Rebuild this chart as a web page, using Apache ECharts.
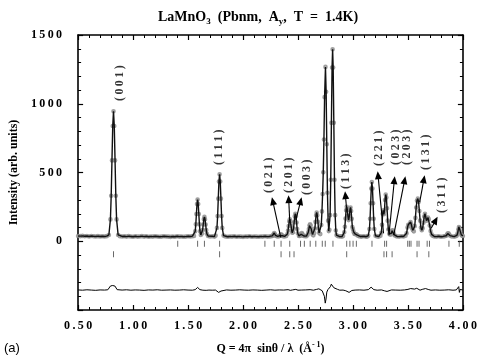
<!DOCTYPE html>
<html><head><meta charset="utf-8">
<script src="https://cdn.jsdelivr.net/npm/echarts@6/dist/echarts.min.js"></script>
<style>html,body{margin:0;padding:0;background:#fff}#c{width:480px;height:360px}</style>
</head><body><div id="c"></div>
<script>
// ---- data ----
var xTicks = [0.5, 1.0, 1.5, 2.0, 2.5, 3.0, 3.5, 4.0];
var yTicks = [0, 500, 1000, 1500];

// observed / fitted profile [Q, intensity]
var observed = [
[0.50,38],[0.52,37],[0.54,39],[0.56,36],[0.58,38],[0.60,35],[0.62,38],[0.64,36],[0.66,35],[0.68,37],[0.70,35],[0.72,36],[0.74,35],[0.76,37],
[0.780,46],[0.794,159],[0.801,331],[0.808,588],[0.815,838],[0.822,945],[0.829,838],[0.836,588],[0.843,331],[0.850,159],[0.864,46],
[0.88,37],[0.90,35],[0.92,36],[0.94,34],[0.96,37],[0.98,35],[1.00,33],[1.02,36],[1.04,34],[1.06,35],[1.08,37],[1.10,34],[1.12,36],[1.14,33],[1.16,35],[1.18,34],[1.20,36],[1.22,35],[1.24,33],[1.26,34],[1.28,36],[1.30,35],[1.32,34],[1.34,32],[1.36,35],[1.38,33],[1.40,36],[1.42,34],[1.44,35],[1.46,33],[1.48,34],[1.50,36],[1.52,35],[1.54,37],
[1.554,39],[1.565,72],[1.5705,123],[1.576,198],[1.5815,271],[1.587,303],[1.5925,271],[1.598,198],[1.6035,123],[1.609,72],[1.616,46],
[1.627,56],[1.6325,82],[1.638,122],[1.6435,160],[1.649,177],[1.6545,160],[1.660,122],[1.6655,82],[1.671,55],[1.682,38],
[1.70,35],[1.72,36],[1.74,34],
[1.751,41],[1.763,97],[1.769,183],[1.775,310],[1.781,434],[1.787,487],[1.793,434],[1.799,310],[1.805,183],[1.811,97],[1.823,41],
[1.84,35],[1.86,33],[1.88,35],[1.90,34],[1.92,36],[1.94,33],[1.96,35],[1.98,34],[2.00,32],[2.02,35],[2.04,34],[2.06,36],[2.08,33],[2.10,35],[2.12,34],[2.14,33],[2.16,35],[2.18,34],[2.20,36],[2.22,34],[2.24,35],[2.255,36],
[2.266,39],[2.272,42],[2.278,51],[2.284,60],[2.290,51],[2.296,42],[2.302,38],[2.315,35],
[2.328,37],[2.334,40],[2.340,45],[2.346,50],[2.352,45],[2.358,40],[2.364,37],[2.378,35],
[2.393,38],[2.404,53],[2.4095,78],[2.415,111],[2.4205,145],[2.426,160],[2.4315,146],[2.437,112],[2.4425,80],[2.448,62],[2.454,66],[2.4595,92],[2.465,138],[2.4705,181],[2.476,200],[2.4815,181],[2.487,136],[2.4925,89],[2.498,58],[2.509,39],
[2.517,38],[2.523,42],[2.529,51],[2.535,60],[2.541,51],[2.547,42],[2.553,38],[2.565,36],
[2.577,37],[2.588,48],[2.5935,65],[2.599,89],[2.6045,114],[2.610,124],[2.6155,114],[2.621,89],[2.6265,66],[2.632,50],[2.640,43],[2.648,60],[2.6535,92],[2.659,141],[2.6645,189],[2.670,209],[2.6755,189],[2.681,141],[2.6865,93],[2.692,61],
[2.703,52],[2.712,118],[2.718,217],[2.724,343],[2.730,501],[2.736,740],[2.742,1048],[2.750,1268],[2.756,1087],[2.762,706],[2.768,353],[2.774,150],[2.780,74],[2.786,84],[2.792,190],[2.798,447],[2.804,861],[2.810,1263],[2.815,1396],[2.820,1263],[2.826,861],[2.832,447],[2.838,190],[2.844,78],[2.850,45],[2.860,38],
[2.875,35],[2.89,36],[2.90,34],
[2.910,38],[2.921,65],[2.9265,106],[2.932,166],[2.9375,225],[2.943,251],[2.9485,231],[2.954,185],[2.9605,154],[2.967,183],[2.9725,226],[2.978,246],[2.9835,220],[2.989,163],[2.9945,104],[3.000,88],[3.006,68],[3.013,54],[3.020,53],[3.031,51],[3.040,44],[3.050,38],
[3.065,35],[3.08,34],[3.10,36],[3.12,33],[3.13,35],
[3.139,40],[3.150,89],[3.1555,164],[3.161,276],[3.1665,384],[3.172,431],[3.1775,384],[3.183,276],[3.1885,164],[3.194,89],[3.205,40],
[3.22,35],[3.235,34],
[3.250,40],[3.258,62],[3.264,120],[3.270,200],[3.275,225],[3.281,196],[3.286,220],[3.292,300],[3.298,340],[3.304,318],[3.310,240],[3.316,150],[3.322,85],[3.330,55],[3.340,48],[3.350,58],[3.356,76],[3.362,80],[3.368,66],[3.375,48],[3.385,40],
[3.40,35],[3.42,34],[3.44,36],[3.46,35],
[3.478,40],[3.488,58],[3.496,100],[3.503,120],[3.510,112],[3.517,125],[3.524,140],[3.531,122],[3.538,95],[3.545,80],[3.554,72],[3.562,110],[3.568,170],[3.575,245],[3.582,295],[3.590,310],[3.597,285],[3.604,220],[3.611,150],[3.618,100],[3.626,80],[3.634,95],[3.641,135],[3.648,180],[3.655,200],[3.662,175],[3.669,150],[3.676,160],[3.683,172],[3.690,160],[3.698,115],[3.706,75],[3.715,50],[3.725,40],
[3.74,35],[3.76,34],[3.78,36],[3.80,33],[3.82,35],[3.835,36],
[3.848,40],[3.856,48],[3.862,56],[3.868,57],[3.874,50],[3.882,41],
[3.90,35],[3.92,34],[3.935,36],
[3.945,42],[3.952,58],[3.958,85],[3.964,104],[3.970,96],[3.977,70],[3.985,48],[3.993,40],[4.00,38]
];

// difference curve (obs - calc, shifted) [Q, value]
var difference = [
[0.50,-354],[0.54,-356],[0.58,-353],[0.62,-355],[0.66,-357],[0.70,-354],[0.74,-355],[0.77,-353],
[0.785,-345],[0.795,-325],[0.805,-320],[0.815,-322],[0.825,-318],[0.835,-326],[0.845,-340],[0.855,-352],[0.87,-356],
[0.90,-355],[0.94,-353],[0.98,-356],[1.02,-354],[1.06,-355],[1.10,-357],[1.14,-354],[1.18,-355],[1.22,-353],[1.26,-356],[1.30,-355],[1.34,-354],[1.38,-356],[1.42,-355],[1.46,-353],[1.50,-355],[1.54,-356],
[1.565,-352],[1.578,-340],[1.587,-336],[1.596,-345],[1.608,-352],[1.62,-360],[1.635,-356],[1.65,-352],[1.665,-357],[1.69,-355],[1.72,-356],[1.75,-355],
[1.765,-362],[1.778,-372],[1.79,-368],[1.80,-362],[1.815,-356],
[1.85,-354],[1.89,-356],[1.93,-355],[1.97,-353],[2.01,-355],[2.05,-356],[2.09,-354],[2.13,-355],[2.17,-357],[2.21,-355],[2.25,-353],[2.29,-356],[2.33,-354],[2.37,-355],[2.41,-352],[2.43,-357],[2.45,-354],[2.48,-350],[2.50,-356],[2.53,-355],[2.57,-354],[2.61,-352],[2.64,-356],[2.67,-350],[2.69,-346],[2.705,-352],[2.72,-360],[2.73,-372],[2.74,-400],[2.748,-450],[2.755,-420],[2.762,-370],[2.772,-352],[2.785,-345],[2.795,-330],[2.803,-312],[2.81,-325],[2.818,-318],[2.826,-338],[2.84,-345],[2.86,-350],[2.88,-356],[2.91,-355],[2.935,-360],[2.95,-368],[2.965,-372],[2.975,-366],[2.99,-358],[3.02,-355],[3.06,-354],[3.10,-356],[3.14,-352],[3.155,-340],[3.165,-334],[3.178,-345],[3.19,-352],[3.22,-356],[3.26,-354],[3.285,-360],[3.298,-348],[3.31,-365],[3.325,-356],[3.35,-354],[3.39,-355],[3.43,-356],[3.47,-354],[3.50,-350],[3.515,-338],[3.525,-344],[3.54,-350],[3.56,-348],[3.58,-342],[3.595,-352],[3.61,-356],[3.63,-350],[3.648,-340],[3.66,-344],[3.675,-342],[3.69,-352],[3.71,-356],[3.75,-354],[3.79,-356],[3.83,-355],[3.87,-353],[3.91,-356],[3.94,-354],[3.955,-340],[3.962,-330],[3.968,-372],[3.975,-350],[3.99,-356],[4.00,-355]
];

// Bragg reflection positions (Q)
var nuclearQ = [1.406,1.587,1.649,1.787,2.199,2.284,2.346,2.425,2.523,2.558,2.611,2.662,2.721,2.748,2.818,2.943,2.972,3.001,3.031,3.173,3.288,3.306,3.498,3.513,3.528,3.583,3.601,3.675,3.696,3.873,3.967];
var magneticQ = [0.822,1.787,2.346,2.425,2.464,2.943,3.282,3.306,3.356,3.583,3.690];
var nuclearRowLevel = -18;
var magneticRowLevel = -95;

// peak labels: text, label position, arrow head, arrow tail (data coords)
var peakLabels = ['(001)','(111)','(021)','(201)','(003)','(113)','(221)','(023)','(203)','(131)','(311)'];
var labelPos = [[0.881,1150],[1.785,684],[2.237,480],[2.414,480],[2.578,465],[2.937,509],[3.238,676],[3.389,684],[3.495,684],[3.668,647],[3.805,335]];
var arrowHead = [null,null,[2.263,320],[2.414,335],[2.533,320],[2.928,364],[3.225,509],[3.380,473],[3.477,473],[3.652,480],[3.770,178]];
var arrowTail = [null,null,[2.343,29],[2.425,145],[2.480,153],[2.941,247],[3.278,58],[3.327,44],[3.371,44],[3.607,284],[3.710,92]];

// ---- chart ----
var SERIF = '"Liberation Serif", "Times New Roman", serif';
function sp(s){ return String(s).split('').join('\u2009'); }

var chart = echarts.init(document.getElementById('c'), null, {renderer:'canvas'});

var axisCommon = {
  type:'value',
  axisLine:{show:true, onZero:false, lineStyle:{color:'#000', width:1.6}},
  axisTick:{show:true, inside:true, length:5, lineStyle:{color:'#000', width:1.2}},
  minorTick:{show:true, splitNumber:5, length:3, lineStyle:{color:'#000', width:1}},
  splitLine:{show:false}, minorSplitLine:{show:false}
};

var arrowData = [];
for (var i=0;i<peakLabels.length;i++){
  if (arrowHead[i]) arrowData.push([arrowTail[i][0], arrowTail[i][1], arrowHead[i][0], arrowHead[i][1]]);
}

function renderArrow(params, api){
  var t = api.coord([api.value(0), api.value(1)]);
  var h = api.coord([api.value(2), api.value(3)]);
  var dx = h[0]-t[0], dy = h[1]-t[1];
  var L = Math.sqrt(dx*dx+dy*dy) || 1;
  var ux = dx/L, uy = dy/L, al = 8, aw = 3.5;
  var bx = h[0]-ux*al, by = h[1]-uy*al;
  return {type:'group', children:[
    {type:'line', shape:{x1:t[0], y1:t[1], x2:bx+ux*2, y2:by+uy*2}, style:{stroke:'#000', lineWidth:1.1}},
    {type:'polygon', shape:{points:[[h[0],h[1]],[bx-uy*aw, by+ux*aw],[bx+uy*aw, by-ux*aw]]}, style:{fill:'#000'}}
  ]};
}

var titleText = 'LaMnO{s|3}  (Pbnm,  A{s|y},  T  =  1.4K)';

var option = {
  animation:false,
  backgroundColor:'#fff',
  title:{
    text:titleText,
    left:153, top:3,
    textStyle:{fontFamily:SERIF, fontWeight:'bold', fontSize:14, color:'#000',
      rich:{s:{fontFamily:SERIF, fontWeight:'bold', fontSize:9, verticalAlign:'bottom', padding:[9,0,0,0], color:'#000'}}}
  },
  grid:{left:71, right:14, top:35, bottom:50},
  xAxis:[
    Object.assign({}, axisCommon, {
      position:'bottom', min:xTicks[0], max:xTicks[xTicks.length-1], interval:0.5,
      axisLabel:{show:true, margin:10, color:'#000', fontFamily:SERIF, fontWeight:'bold', fontSize:12,
        formatter:function(v){ return sp(v.toFixed(2)); }},
      name:'Q = 4\u03c0  sin\u03b8 / \u03bb  (\u00c5{sup|- 1})', nameLocation:'middle', nameGap:31,
      nameTextStyle:{fontFamily:SERIF, fontWeight:'bold', fontSize:12, color:'#000',
        rich:{sup:{fontFamily:SERIF, fontWeight:'bold', fontSize:8, verticalAlign:'top', padding:[0,0,8,0], color:'#000'}}}
    }),
    Object.assign({}, axisCommon, {
      position:'top', min:xTicks[0], max:xTicks[xTicks.length-1], interval:0.5,
      axisLabel:{show:false}
    })
  ],
  yAxis:[
    Object.assign({}, axisCommon, {
      position:'left', min:-500, max:yTicks[yTicks.length-1], interval:500,
      axisLabel:{show:true, margin:16, color:'#000', fontFamily:SERIF, fontWeight:'bold', fontSize:12,
        formatter:function(v){ return yTicks.indexOf(v) >= 0 ? sp(v) : ''; }},
      name:'Intensity (arb. units)', nameLocation:'middle', nameRotate:90, nameGap:53,
      nameTextStyle:{fontFamily:SERIF, fontWeight:'bold', fontSize:12, color:'#000'}
    }),
    Object.assign({}, axisCommon, {
      position:'right', min:-500, max:yTicks[yTicks.length-1], interval:500,
      axisLabel:{show:false}
    })
  ],
  graphic:[
    {type:'text', left:4, top:342, style:{text:'(a)', font:'13px "Liberation Sans", Arial, sans-serif', fill:'#000'}}
  ],
  series:[
    {
      name:'observed', type:'scatter', data:observed,
      symbol:'emptyCircle', symbolSize:2.6,
      itemStyle:{color:'#888', borderColor:'#888', borderWidth:0.7},
      z:2, silent:true
    },
    {
      name:'calculated', type:'line', data:observed, showSymbol:false,
      lineStyle:{color:'#111', width:1.4}, z:3, silent:true
    },
    {
      name:'difference', type:'line', data:difference, showSymbol:false,
      lineStyle:{color:'#000', width:1}, z:3, silent:true
    },
    {
      name:'nuclear', type:'scatter', data:nuclearQ.map(function(q){return [q, nuclearRowLevel];}),
      symbol:'rect', symbolSize:[1,6], itemStyle:{color:'#444'}, silent:true
    },
    {
      name:'magnetic', type:'scatter', data:magneticQ.map(function(q){return [q, magneticRowLevel];}),
      symbol:'rect', symbolSize:[1,6], itemStyle:{color:'#444'}, silent:true
    },
    {
      name:'labels', type:'scatter', symbolSize:0, silent:true,
      data:labelPos.map(function(p,i){ return {value:p, name:peakLabels[i]}; }),
      label:{show:true, position:'inside', rotate:90, formatter:function(p){ return sp(p.name); },
        fontFamily:SERIF, fontWeight:'bold', fontSize:12, color:'#000'}
    },
    {
      name:'arrows', type:'custom', silent:true, renderItem:renderArrow,
      data:arrowData, encode:{x:[0,2], y:[1,3]}, z:4
    }
  ]
};
chart.setOption(option);
</script></body></html>
